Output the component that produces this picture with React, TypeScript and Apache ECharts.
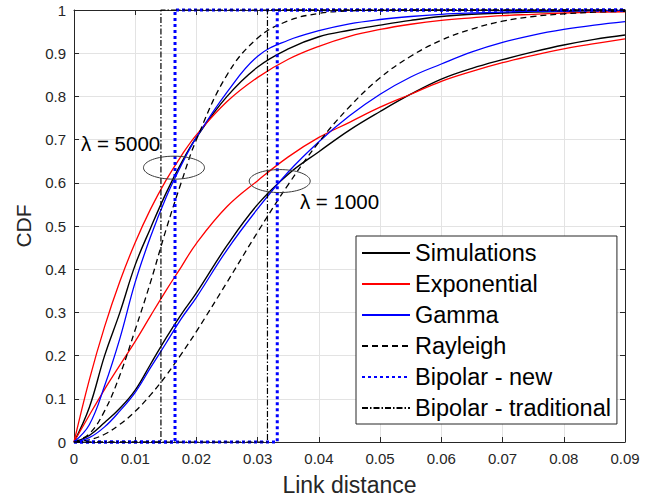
import React, { useEffect, useRef } from 'react';
import * as echarts from 'echarts';

// Link distance sample points
const xs = [0, 0.0025, 0.005, 0.0075, 0.01, 0.0125, 0.015, 0.0175, 0.02, 0.025, 0.03, 0.035, 0.04, 0.045, 0.05, 0.055, 0.06, 0.065, 0.07, 0.075, 0.08, 0.085, 0.09];

// lambda = 5000
const sim5000 = [0, 0.08, 0.2, 0.3, 0.41, 0.495, 0.575, 0.645, 0.705, 0.8, 0.868, 0.91, 0.938, 0.953, 0.965, 0.976, 0.985, 0.99, 0.993, 0.995, 0.997, 0.998, 0.998];
const exp5000 = [0, 0.144, 0.267, 0.372, 0.462, 0.539, 0.605, 0.662, 0.711, 0.788, 0.844, 0.886, 0.916, 0.939, 0.955, 0.967, 0.976, 0.982, 0.987, 0.99, 0.993, 0.995, 0.996];
const gam5000 = [0, 0.04, 0.13, 0.24, 0.37, 0.475, 0.565, 0.64, 0.705, 0.81, 0.893, 0.93, 0.952, 0.968, 0.978, 0.985, 0.99, 0.993, 0.995, 0.997, 0.998, 0.999, 0.999];
const ray5000 = [0, 0.019, 0.072, 0.155, 0.26, 0.37, 0.49, 0.6, 0.7, 0.85, 0.935, 0.975, 0.992, 0.998, 0.9995, 1, 1, 1, 1, 1, 1, 1, 1];

// lambda = 1000
const sim1000 = [0, 0.015, 0.045, 0.078, 0.12, 0.18, 0.24, 0.295, 0.345, 0.455, 0.55, 0.62, 0.672, 0.722, 0.765, 0.805, 0.84, 0.865, 0.885, 0.903, 0.919, 0.932, 0.942];
const exp1000 = [0, 0.062, 0.122, 0.178, 0.233, 0.292, 0.35, 0.405, 0.46, 0.545, 0.605, 0.66, 0.705, 0.74, 0.775, 0.805, 0.835, 0.858, 0.878, 0.895, 0.91, 0.922, 0.933];
const gam1000 = [0, 0.01, 0.035, 0.072, 0.115, 0.172, 0.228, 0.285, 0.335, 0.445, 0.54, 0.625, 0.695, 0.755, 0.805, 0.845, 0.875, 0.903, 0.925, 0.942, 0.955, 0.965, 0.973];
const ray1000 = [0, 0.005, 0.018, 0.041, 0.071, 0.109, 0.153, 0.203, 0.256, 0.37, 0.486, 0.596, 0.694, 0.776, 0.843, 0.893, 0.93, 0.956, 0.974, 0.985, 0.991, 0.995, 0.997];

// Bipolar step positions (link distance where CDF jumps 0 -> 1)
const bipolarNew = [0.0165, 0.0332];
const bipolarTrad = [0.0142, 0.0316];

const legendNames = ['Simulations', 'Exponential', 'Gamma', 'Rayleigh', 'Bipolar - new', 'Bipolar - traditional'];
const annotations = [
  { text: 'λ = 5000', x: 0.00114, y: 0.69, ex: 0.01633, ey: 0.635 },
  { text: 'λ = 1000', x: 0.0369, y: 0.556, ex: 0.0336, ey: 0.604 },
];

const FONT = '"Liberation Sans", Arial, Helvetica, sans-serif';
const AX = '#262626';

const pair = (ys: number[]) => xs.map((x, i) => [x, ys[i]]);
const step = (x0: number) => [[0, 0], [x0, 0], [x0, 1], [0.09, 1]];

const fmt = (v: number) => {
  if (Math.abs(v) < 1e-9) return '0';
  const r = Math.round(v * 100) / 100;
  return String(r);
};

export default function App() {
  const ref = useRef<HTMLDivElement>(null);
  useEffect(() => {
    document.body.style.margin = '0';
    const chart = echarts.init(ref.current!, null, { renderer: 'svg' });
    const curve = (name: string, ys: number[], color: string, type: any, width = 1.3) => ({
      name,
      type: 'line',
      data: pair(ys),
      showSymbol: false,
      symbol: 'none',
      smooth: 0.4,
      lineStyle: { color, width, type },
      itemStyle: { color },
      z: 3,
    });
    const stepSeries = (name: string, x0: number, color: string, type: any, width: number) => ({
      name,
      type: 'line',
      data: step(x0),
      showSymbol: false,
      symbol: 'none',
      clip: false,
      lineStyle: { color, width, type },
      itemStyle: { color },
      z: 5,
    });
    const series: any[] = [
      curve('Simulations', sim5000, '#000000', 'solid', 1.4),
      curve('Simulations', sim1000, '#000000', 'solid', 1.4),
      curve('Exponential', exp5000, '#ff0000', 'solid'),
      curve('Exponential', exp1000, '#ff0000', 'solid'),
      curve('Gamma', gam5000, '#0000ff', 'solid'),
      curve('Gamma', gam1000, '#0000ff', 'solid'),
      curve('Rayleigh', ray5000, '#000000', [6, 4]),
      curve('Rayleigh', ray1000, '#000000', [6, 4]),
      stepSeries('Bipolar - new', bipolarNew[0], '#0000ff', [3, 3], 3),
      stepSeries('Bipolar - new', bipolarNew[1], '#0000ff', [3, 3], 3),
      stepSeries('Bipolar - traditional', bipolarTrad[0], '#000000', [6, 2, 1.5, 2], 1.2),
      stepSeries('Bipolar - traditional', bipolarTrad[1], '#000000', [6, 2, 1.5, 2], 1.2),
    ];
    const baseAxis = {
      type: 'value',
      axisLine: { show: true, onZero: false, lineStyle: { color: AX, width: 1 } },
      axisTick: { show: true, inside: true, length: 5, lineStyle: { color: AX } },
    };
    chart.setOption({
      animation: false,
      backgroundColor: '#ffffff',
      textStyle: { fontFamily: FONT },
      grid: { left: 74, right: 38, top: 10, bottom: 62, containLabel: false },
      legend: {
        data: legendNames,
        orient: 'vertical',
        left: 356,
        top: 236,
        padding: [5, 6, 4, 5],
        itemWidth: 48,
        itemHeight: 14,
        itemGap: 7,
        selectedMode: false,
        backgroundColor: '#ffffff',
        borderColor: AX,
        borderWidth: 1,
        borderRadius: 0,
        itemStyle: { opacity: 0 },
        textStyle: { fontSize: 23.5, color: '#000', fontFamily: FONT },
        z: 10,
      },
      xAxis: [
        {
          ...baseAxis,
          min: 0,
          max: 0.09,
          interval: 0.01,
          name: 'Link distance',
          nameLocation: 'middle',
          nameGap: 31,
          nameTextStyle: { fontSize: 23, color: AX, fontFamily: FONT },
          axisLabel: { formatter: fmt, color: AX, fontSize: 15, margin: 9, fontFamily: FONT },
          splitLine: { show: true, lineStyle: { color: '#e3e3e3', width: 1 } },
        },
        {
          ...baseAxis,
          position: 'top',
          min: 0,
          max: 0.09,
          interval: 0.01,
          axisLabel: { show: false },
          splitLine: { show: false },
        },
      ],
      yAxis: [
        {
          ...baseAxis,
          min: 0,
          max: 1,
          interval: 0.1,
          name: 'CDF',
          nameLocation: 'middle',
          nameGap: 27,
          nameTextStyle: { fontSize: 21, color: AX, fontFamily: FONT },
          axisLabel: { formatter: fmt, color: AX, fontSize: 15, margin: 8, fontFamily: FONT },
          splitLine: { show: true, lineStyle: { color: '#e3e3e3', width: 1 } },
        },
        {
          ...baseAxis,
          position: 'right',
          min: 0,
          max: 1,
          interval: 0.1,
          axisLabel: { show: false },
          splitLine: { show: false },
        },
      ],
      series,
    });
    const graphics: any[] = [];
    annotations.forEach((a) => {
      const c = chart.convertToPixel({ gridIndex: 0 }, [a.ex, a.ey]) as number[];
      const t = chart.convertToPixel({ gridIndex: 0 }, [a.x, a.y]) as number[];
      graphics.push({
        type: 'ellipse',
        shape: { cx: c[0], cy: c[1], rx: 30.5, ry: 11.5 },
        style: { fill: 'none', stroke: '#3a3a3a', lineWidth: 1 },
        z: 20,
      });
      graphics.push({
        type: 'text',
        x: t[0],
        y: t[1],
        style: {
          text: a.text,
          fill: '#000',
          fontSize: 20.5,
          fontFamily: FONT,
          verticalAlign: 'middle',
          align: 'left',
        },
        z: 20,
      });
    });
    chart.setOption({ graphic: graphics });
    return () => chart.dispose();
  }, []);
  return <div ref={ref} style={{ width: 663, height: 504 }} />;
}
